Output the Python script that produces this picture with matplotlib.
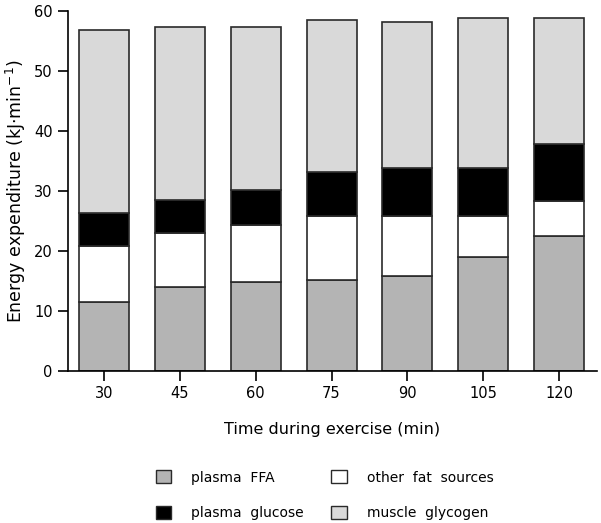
import numpy as np
import matplotlib.pyplot as plt
from matplotlib.patches import Patch

times = ['30', '45', '60', '75', '90', '105', '120']
# cumulative tops (kJ/min)
ffa_top = [11.5, 14.0, 14.8, 15.1, 15.9, 19.0, 22.5]
fat_top = [20.9, 23.0, 24.3, 25.9, 25.9, 25.9, 28.3]
glucose_top = [26.3, 28.5, 30.2, 33.1, 33.9, 33.9, 37.8]
total = [56.8, 57.3, 57.4, 58.5, 58.1, 58.8, 58.8]

ffa = np.array(ffa_top)
other_fat = np.array(fat_top) - np.array(ffa_top)
glucose = np.array(glucose_top) - np.array(fat_top)
glycogen = np.array(total) - np.array(glucose_top)

plt.rcParams['font.family'] = ['DejaVu Sans']
fig = plt.figure(figsize=(6.01, 5.23), dpi=100)
ax = fig.add_axes([68/601, 1-371/523, (597-68)/601, 360/523])

x = np.arange(len(times))
w = 0.66
ec = '#2a2a2a'
c_ffa = '#b4b4b4'
c_gly = '#d9d9d9'
ax.bar(x, ffa, w, color=c_ffa, edgecolor=ec, linewidth=1.2)
ax.bar(x, other_fat, w, bottom=ffa, color='white', edgecolor=ec, linewidth=1.2)
ax.bar(x, glucose, w, bottom=ffa + other_fat, color='black', edgecolor=ec, linewidth=1.2)
ax.bar(x, glycogen, w, bottom=ffa + other_fat + glucose, color=c_gly, edgecolor=ec, linewidth=1.2)

ax.set_xlim(-0.475, 6.5)
ax.set_ylim(0, 60)
ax.set_yticks(range(0, 61, 10))
ax.set_xticks(x)
ax.set_xticklabels(times)
ax.spines['top'].set_visible(False)
ax.spines['right'].set_visible(False)
for s in ['left', 'bottom']:
    ax.spines[s].set_linewidth(1.2)
ax.tick_params(axis='both', direction='out', length=7, width=1.2, labelsize=10.5, pad=4)
ax.set_xlabel('Time during exercise (min)', fontsize=11.5, labelpad=15)
ax.set_ylabel('Energy expenditure (kJ$\\cdot$min$^{-1}$)', fontsize=12.5, labelpad=4)

handles = [Patch(facecolor=c_ffa, edgecolor=ec, label='plasma  FFA'),
           Patch(facecolor='black', edgecolor=ec, label='plasma  glucose'),
           Patch(facecolor='white', edgecolor=ec, label='other  fat  sources'),
           Patch(facecolor=c_gly, edgecolor=ec, label='muscle  glycogen')]
fig.legend(handles=handles, ncol=2, loc='center', bbox_to_anchor=(0.54, 0.053),
           frameon=False, fontsize=10, handlelength=1.1, handleheight=1.1,
           handletextpad=1.45, columnspacing=2.0, labelspacing=1.55)

fig.savefig('out.png', dpi=100)
